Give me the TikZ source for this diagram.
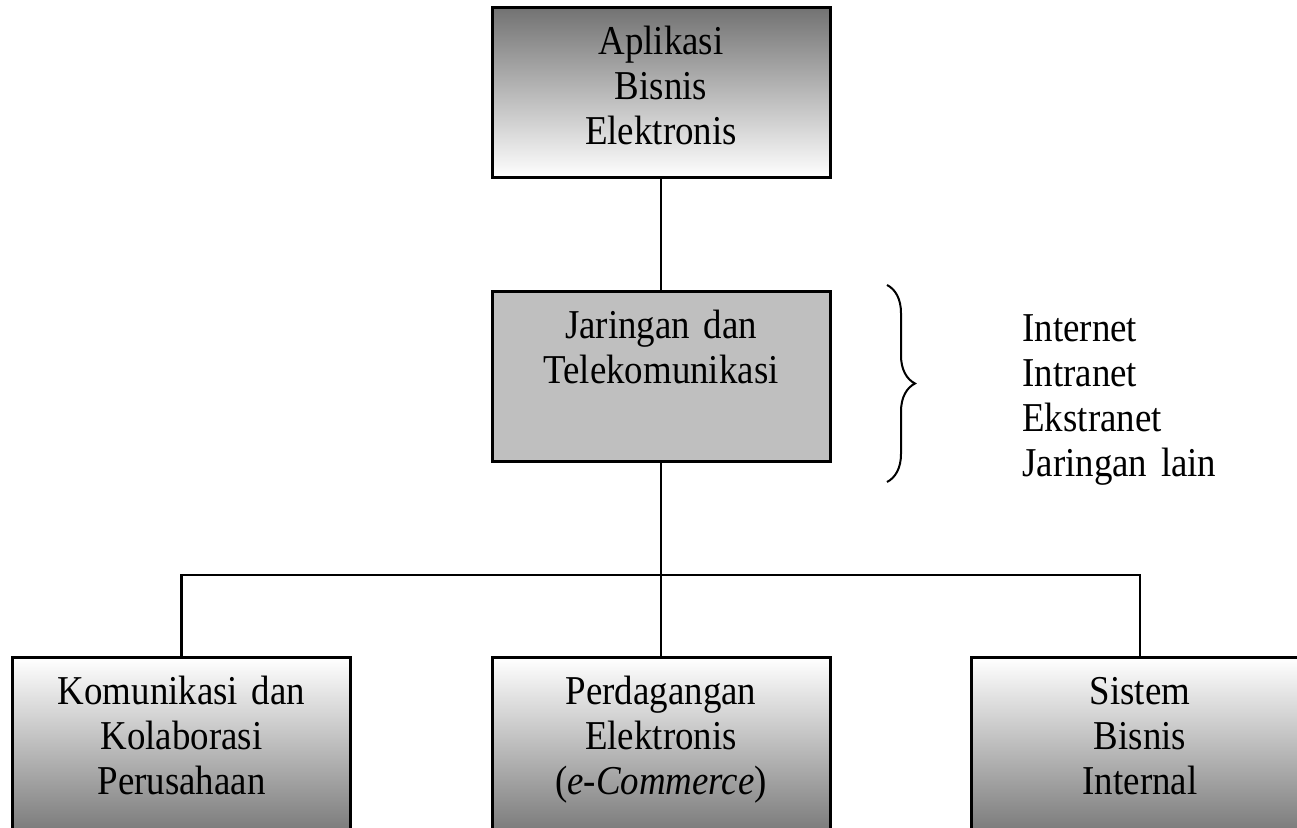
\documentclass[tikz,border=0pt]{standalone}
\usepackage{fontspec}
\setmainfont{Liberation Serif}[FakeStretch=0.9]
\usetikzlibrary{decorations.pathreplacing}
\begin{document}
\begin{tikzpicture}[x=0.5pt,y=0.5pt,
		kotak/.style={draw=black,line width=1.5pt,minimum width=169pt,minimum height=85pt,
			text width=163pt,align=center,inner xsep=3pt,inner ysep=0pt,
			text height=23.5pt,text depth=61.5pt,font=\fontsize{20.5}{22.5}\selectfont},
		atas/.style={kotak,top color=black!55,bottom color=white},
		bawah/.style={kotak,top color=white,bottom color=black!52,text depth=63.5pt},
		garis/.style={line width=1.2pt,black}]
		\useasboundingbox (0,0) rectangle (1297,828);
		\clip (0,0) rectangle (1297,828);
		
		\node[atas] (aplikasi) at (661,735) {Aplikasi\\Bisnis\\Elektronis};
		\node[kotak,fill=black!25] (jaringan) at (661,451) {Jaringan dan\\Telekomunikasi};
		
		\node[bawah] (komunikasi) at (181.5,83) {Komunikasi dan\\Kolaborasi\\Perusahaan};
		\node[bawah] (perdagangan) at (661,83) {Perdagangan\\Elektronis\\(\textit{e-Commerce})};
		\node[bawah] (sistem) at (1140,83) {Sistem\\Bisnis\\Internal};
		
		\coordinate (cabang) at (661,253);
		\draw[garis](aplikasi)--(jaringan);
		\draw[garis](jaringan)--(perdagangan);
		\draw[garis](komunikasi.north)|-(cabang)-|(sistem.north);
		
		\coordinate (kurungatas) at (887,543);
		\coordinate (kurungbawah) at (887,346);
		\draw[line width=1pt,decorate,decoration={brace,amplitude=14pt}](kurungatas)--(kurungbawah);
		
		\node[anchor=base west,inner sep=0pt,text width=140pt,align=left,
			font=\fontsize{20.5}{22.5}\selectfont] (jenis) at (1022,486)
			{Internet\\Intranet\\Ekstranet\\Jaringan lain};
		\end{tikzpicture}
\end{document}
